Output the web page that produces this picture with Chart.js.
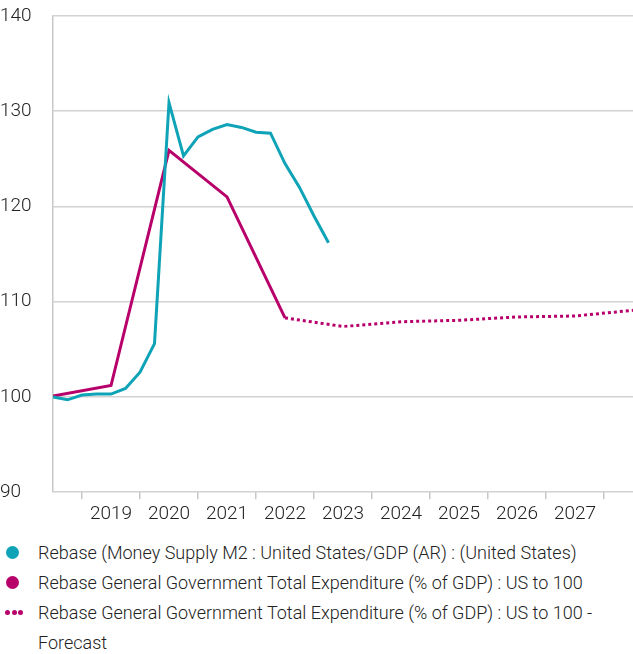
<!DOCTYPE html>
<html>
<head>
<meta charset="utf-8">
<script src="https://cdn.jsdelivr.net/npm/chart.js@4/dist/chart.umd.min.js"></script>
<style>
    html, body { margin: 0; padding: 0; background: #fff; }
    body { width: 633px; height: 654px; overflow: hidden; font-family: Roboto, "Noto Sans", sans-serif; }
    .wrap { position: relative; width: 633px; height: 530px; }
    .legend { margin: 8px 0 0 0; color: #222; font-size: 18px; font-weight: 300; }
    .legend .row { display: flex; align-items: flex-start; line-height: 30px; }
    .legend .mk { width: 38px; flex: none; position: relative; height: 30px; }
    .legend .dot { position: absolute; left: 6px; top: 8px; width: 13px; height: 13px; border-radius: 50%; }
    .legend .dots { position: absolute; left: 5px; top: 12px; display: flex; gap: 1.5px; }
    .legend .dots span { width: 5px; height: 5px; border-radius: 50%; background: #b8006b; }
</style>
</head>
<body>
<div class="wrap"><canvas id="chart"></canvas></div>
<div class="legend" id="legend"></div>
<script>
(function () {
    const TEAL = '#0fa3b7';
    const MAGENTA = '#b8006b';

    // Money supply M2 / GDP, rebased, quarterly
    const m2Quarters = ['2018Q3', '2018Q4', '2019Q1', '2019Q2', '2019Q3', '2019Q4', '2020Q1', '2020Q2',
        '2020Q3', '2020Q4', '2021Q1', '2021Q2', '2021Q3', '2021Q4', '2022Q1', '2022Q2',
        '2022Q3', '2022Q4', '2023Q1', '2023Q2'];
    const m2Values = [100.0, 99.7, 100.2, 100.3, 100.3, 100.9, 102.6, 105.6,
        130.9, 125.3, 127.3, 128.1, 128.6, 128.3, 127.8, 127.7,
        124.5, 122.0, 119.0, 116.2];

    // General government total expenditure (% of GDP), rebased, annual
    const expYears = [2018, 2019, 2020, 2021, 2022];
    const expValues = [100.1, 101.2, 125.9, 121.0, 108.3];

    const fcYears = [2022, 2023, 2024, 2025, 2026, 2027, 2028];
    const fcValues = [108.3, 107.4, 107.9, 108.05, 108.4, 108.5, 109.1];

    const yearTicks = [2019, 2020, 2021, 2022, 2023, 2024, 2025, 2026, 2027, 2028];
    const yTicks = [90, 100, 110, 120, 130, 140];

    const legendItems = [
        {label: 'Rebase (Money Supply M2 : United States/GDP (AR) : (United States)', color: TEAL, dotted: false},
        {label: 'Rebase General Government Total Expenditure (% of GDP) : US to 100', color: MAGENTA, dotted: false},
        {label: 'Rebase General Government Total Expenditure (% of GDP) : US to 100 - Forecast', color: MAGENTA, dotted: true}
    ];

    const quarterPos = q => +q.slice(0, 4) + (+q.slice(5) - 1) / 4;
    const midYear = y => y + 0.5;

    const font = {family: 'Roboto, "Noto Sans", sans-serif', size: 19, weight: '300'};

    new Chart(document.getElementById('chart'), {
        type: 'line',
        data: {
            datasets: [
                {
                    data: m2Quarters.map((q, i) => ({x: quarterPos(q), y: m2Values[i]})),
                    borderColor: TEAL, borderWidth: 3, pointRadius: 0, tension: 0
                },
                {
                    data: expYears.map((y, i) => ({x: midYear(y), y: expValues[i]})),
                    borderColor: MAGENTA, borderWidth: 3, pointRadius: 0, tension: 0
                },
                {
                    data: fcYears.map((y, i) => ({x: midYear(y), y: fcValues[i]})),
                    borderColor: MAGENTA, borderWidth: 3, borderDash: [3, 3], pointRadius: 0, tension: 0
                }
            ]
        },
        options: {
            responsive: true,
            maintainAspectRatio: false,
            animation: false,
            layout: {padding: {top: 16, right: 0, left: 0, bottom: 0}},
            plugins: {legend: {display: false}, tooltip: {enabled: false}},
            scales: {
                x: {
                    type: 'linear',
                    min: 2018.5,
                    max: 2028.5,
                    afterBuildTicks: s => { s.ticks = yearTicks.map(v => ({value: v})); },
                    grid: {drawOnChartArea: false, drawTicks: true, tickLength: 7, color: '#c8c8c8', lineWidth: 1.5},
                    border: {display: false},
                    ticks: {
                        font: font, color: '#222', maxRotation: 0, autoSkip: false, padding: 4,
                        labelOffset: 29,
                        callback: v => v < 2028 ? String(v) : ''
                    }
                },
                y: {
                    min: 90,
                    max: 140,
                    afterBuildTicks: s => { s.ticks = yTicks.map(v => ({value: v})); },
                    afterFit: s => { s.width = 53; },
                    grid: {color: '#d2d2d2', lineWidth: 1.5, drawTicks: false},
                    border: {display: true, color: '#c8c8c8', width: 1.5},
                    ticks: {font: font, color: '#222', crossAlign: 'far', padding: 0}
                }
            }
        }
    });

    const leg = document.getElementById('legend');
    legendItems.forEach(it => {
        const row = document.createElement('div');
        row.className = 'row';
        const mk = it.dotted
            ? '<div class="dots"><span></span><span></span><span></span></div>'
            : `<div class="dot" style="background:${it.color}"></div>`;
        row.innerHTML = `<div class="mk">${mk}</div><div class="txt">${it.label}</div>`;
        leg.appendChild(row);
    });
})();
</script>
</body>
</html>
